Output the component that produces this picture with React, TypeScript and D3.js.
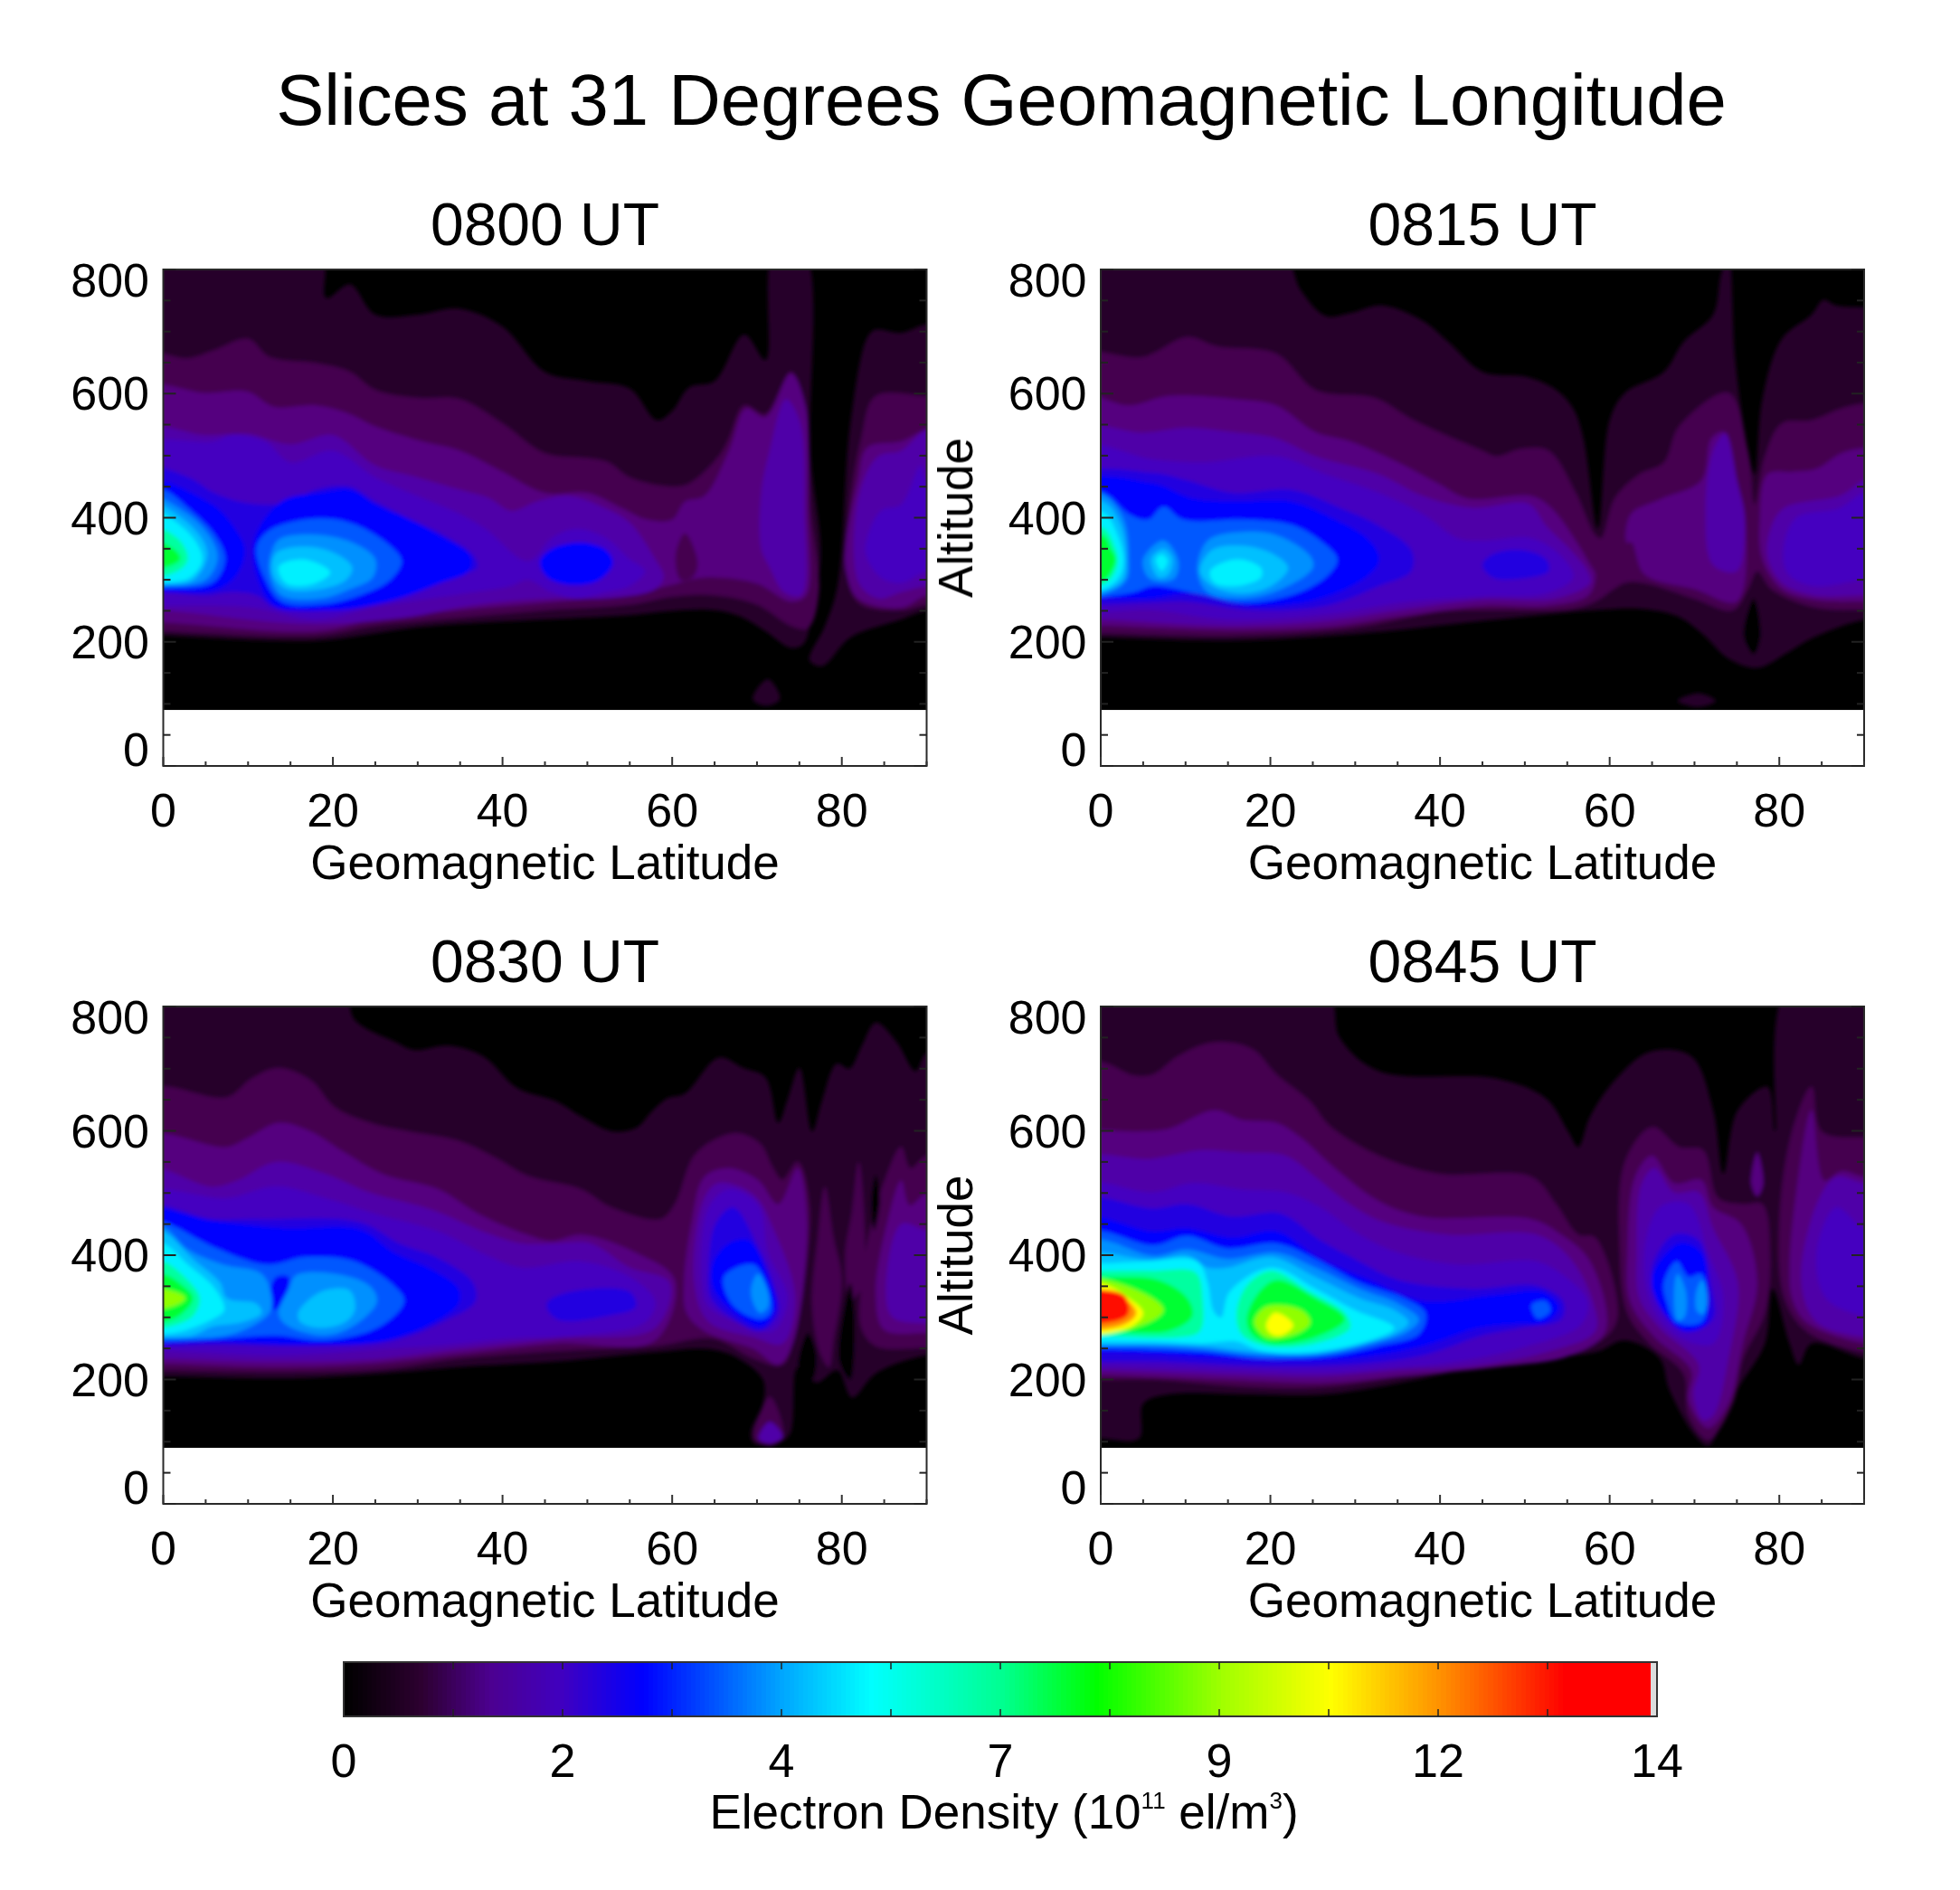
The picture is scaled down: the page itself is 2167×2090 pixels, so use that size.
import React from "react";
import * as d3 from "d3";

// Filled contour bands: [level, flat list of lat, altitude pairs around the band]
type Ring = [number, number[]];

const levelColors = ["#000000","#26002a","#45004f","#55007f","#5000a8","#4400c0","#2400e0","#0000ff","#0058ff","#0090ff","#00c0ff","#00f0ff","#00ffa0","#00ff30","#90ff00","#ffff00","#ff9000","#ff1000"];

const rings0800: Ring[] = [
  [1,[-3,830,18.5,830,19.2,754,22,776,25,727,30,727,34.8,737,40,708,45,635,50,620,55,608,58.2,557,60,572,62,610,65,620,68.5,695,71,654,72,830,75.5,830,76.3,500,77.5,340,76.5,250,75.5,197,74,190,71,217,68,241,65,251,60,250,55,243,45,236,35,229,29,222,18,202,0,210,-3,210]],
  [1,[76.2,170,78,225,79.5,290,81,550,83,690,84,703,87,698,90,712,93,712,93,255,90,251,87,236,81,207,77.7,161]],
  [1,[69.5,108,71.3,140,72.7,108,71,97]],
  [2,[-3,661,3,657,6,670,10,688,12.5,659,18,649,22,635,25,606,30,593,35,591,40,552,45,504,50,496,52.5,489,55,465,60,450,62,455,65.5,499,66.7,528,68.5,581,71,567,74,635,75.5,586,76.3,411,77.3,280,76,222,74,226,70,260,65,275,60,273,55,260,45,251,35,239,25,226,18,210,0,217,-3,217]],
  [2,[80.9,411,82.3,528,84,596,90,596,93,596,93,260,90,260,87,251,82.3,260,80.9,290]],
  [3,[-3,608,5,601,10,603,13,579,18,581,22,567,25,547,30,525,35,508,40,474,45,440,50,440,54,416,57,397,60,397,61.5,426,63.8,435,66.7,508,68.7,576,71,562,74,632,75.7,581,76,411,75.8,275,74,265,70,294,65,304,62,300,60,292,55,277,45,263,35,251,25,236,18,217,0,231,-3,231]],
  [2,[60.4,340,61.5,375,63,330,62.5,305,61,300]],
  [3,[80.5,363,81.9,460,83,513,87,523,90,542,93,542,93,275,90,275,87,255,81.9,270,80.5,314]],
  [4,[-3,542,5,533,10,535,15,518,20,533,25,484,30,465,35,445,38.5,431,41,411,44,426,47.9,435,52,416,55,392,58,333,59,305,58,285,52,270,46,270,40,265,35,256,29,240,17,229,0,251,-3,251]],
  [4,[70.5,440,71.5,508,73.4,591,75,557,75.6,411,75.2,275,73.2,280,71.5,320,70.5,350]],
  [4,[82,435,84.3,499,87,508,90,542,93,542,93,290,90,290,87,280,84.3,270,82,295]],
  [5,[82.9,363,84.6,411,87,421,89.3,484,90,460,93,460,93,314,90,314,87,295,84.6,304,82.9,338]],
  [5,[-3,513,6,523,8,533,12,523,15,489,20,508,25,465,30,435,35,406,38,382,43,330,45.8,367,48.7,382,52.2,367,55,333,56.8,314,55,290,52.2,280,48.7,270,45.8,280,43,300,41,290,35,277,25,256,18,236,10,256,0,258,-3,258]],
  [6,[-3,480,3,465,6,440,9,426,12.5,421,15,426,18,445,22,450,25,426,30,392,33,372,36.5,340,37,320,33,302,30,287,25,265,18,250,13,256,11,275,8,280,5,275,0,280,-3,280]],
  [7,[-3,460,5.8,421,8.7,377,9.6,348,8.7,309,6.4,285,0,280,-3,280]],
  [7,[10.7,363,13.9,426,18.6,440,22,445,25,421,29,397,32.5,372,36.2,338,36,314,32.5,294,27.8,270,22,253,17.4,251,13.3,256,11.3,295]],
  [7,[44.4,329,45.6,348,49,360,52.2,348,53,326,51.3,299,48,292,45.3,304]],
  [8,[11,353,12.8,382,18.6,399,23,387,27.3,348,28.1,329,26.7,299,23.2,275,18.6,260,13.9,265,11.9,304]],
  [9,[13,353,13.9,367,18.6,372,22.6,358,25,333,24.7,304,22,285,18.6,270,13.9,275,12.5,314]],
  [10,[13.3,343,17.4,353,20.9,338,22.3,319,21.5,299,18.6,285,14.5,285,12.9,309]],
  [11,[13.6,321,16.5,333,19.7,312,17.4,292,14.5,294]],
  [8,[-3,445,0,445,2.9,416,6.1,372,7.3,333,5.8,295,0,287,-3,287]],
  [9,[-3,440,2.9,406,5.8,363,6.4,333,4.9,299,0,290,-3,290]],
  [10,[-3,430,2.9,392,5.2,343,3.5,299,0,292,-3,292]],
  [11,[-3,420,2.9,377,4.6,333,3.2,304,0,295,-3,295]],
  [12,[-3,390,1.7,367,2.9,333,1.7,314,-3,305]],
  [13,[-3,370,1.4,348,2,333,0,319,-3,318]],
];

const rings0815: Ring[] = [
  [1,[-3,830,21.2,830,23.6,766,26.5,725,29.5,730,33.1,742,38,717,41,683,45,635,50.2,627,53.7,606,55.7,576,56.9,528,58.6,382,60,557,61.8,601,66.4,635,68.7,683,72.2,727,73.1,790,74,830,74.8,654,76.3,508,77.1,470,78,591,80.3,688,83.8,727,85.2,751,86.7,742,90.2,739,93,739,93,236,90.2,236,84,207,81,183,77.4,158,74,173,71,212,68,241,64,253,58.3,251,46.7,236,29.4,212,14.9,202,0.4,207,-3,207]],
  [1,[68,105,70.5,117,72.5,105,70.5,95]],
  [2,[-3,659,5,659,10.2,691,13.7,676,20.7,664,25.3,606,32.3,593,36.9,557,45,508,46.7,499,49.6,511,52.8,508,56,440,58.3,372,59,367,60.6,431,63.5,470,66.4,489,68.2,547,74,601,76.3,508,77.1,421,78.3,499,80.3,552,83.8,557,87.3,576,90,584,93,584,93,251,90,251,84,256,79.1,285,77.4,314,76.3,285,74.5,251,69.9,270,64,295,61.8,295,58.3,265,55.4,253,46.7,251,40.5,249,29.4,222,14.9,210,0.4,214,-3,214]],
  [3,[-3,596,3.3,581,7.9,596,16,591,20.7,581,25.3,538,29.4,523,35.1,489,39.8,455,43.3,431,50.8,435,53.1,416,56,363,57.7,324,58.3,309,57.5,275,52.5,258,45,258,35.1,241,26.5,224,14.9,219,0.4,226,-3,226]],
  [3,[62,360,62.5,406,66,430,70.8,460,72,528,73.6,538,75,460,76,396,75,265,70,285,64.1,309,62.6,360]],
  [4,[71.3,411,72.2,508,73.6,535,75,460,75.9,396,75,314,72.2,324]],
  [3,[77.7,397,78.6,470,81.5,474,84.4,479,87.3,504,90.2,513,93,513,93,265,90,265,84,268,80.3,285,78,333]],
  [4,[79.1,387,80.6,416,87.3,436,90,460,93,460,93,275,90,275,84,275,80.3,295,78.6,338]],
  [4,[-3,542,5,537,10.2,545,15.5,538,20.7,528,25.3,499,32.8,470,38,435,43.8,416,50.5,422,52.5,387,55.4,348,57.4,314,57.7,295,53.7,270,45,268,35.1,251,26.5,234,14.9,226,0.4,236,-3,236]],
  [5,[-3,513,6.2,494,12,489,20.7,499,26.5,470,32.8,440,38,406,42.1,367,45,363,50.8,367,54.3,338,55.7,304,52.5,278,45,273,36.3,265,26.5,244,14.9,236,6.2,251,0.4,248,-3,248]],
  [5,[80.5,350,82,400,87,415,90,440,93,440,93,300,90,300,84,290,81,310]],
  [6,[-3,465,6.2,472,10.2,460,15.5,440,22.4,445,28.2,416,32.8,387,36.6,348,36.6,314,32.8,290,26.5,258,17.8,251,10.2,265,5.6,263,0.4,260,-3,260]],
  [6,[45,324,46.2,341,49.6,348,52.5,333,52.8,314,49.6,302,46.2,304]],
  [7,[-3,455,6.2,455,10.8,431,16,426,22.4,426,27.6,397,31.7,363,32.8,333,31.7,309,25.9,270,17.8,258,10.8,278,5.6,270,0.4,270,-3,270]],
  [8,[-3,440,0.4,440,3.3,406,5.6,397,7.4,418,9.7,397,16.6,397,22.4,389,25.9,363,27.9,333,26.5,304,22.4,275,16.6,263,11.4,278,6.2,290,3.9,280,0.4,273,-3,273]],
  [9,[11.4,314,12.6,363,16.6,377,20.7,372,24.7,338,25,319,21.3,285,16.6,270,12.6,280]],
  [10,[11.7,314,13.1,348,16.6,355,20.1,343,22.1,319,20.1,290,16.6,278,13.1,290]],
  [11,[12.9,314,16,333,18.9,319,18.9,304,16,290,13.4,295]],
  [9,[5,333,7.4,363,9.1,333,8.8,304,7.4,297,5.6,304]],
  [10,[5.9,333,7.4,350,8.5,333,7.9,307,6.8,304]],
  [11,[6.5,333,7.2,341,7.9,331,7.2,314]],
  [9,[-3,440,0.4,436,2.7,397,3.3,333,3,299,0.4,277,-3,277]],
  [10,[-3,425,0.4,425,2.3,390,3,333,2.6,300,0.4,282,-3,282]],
  [11,[-3,410,0.4,408,1.9,375,2.7,333,2.2,305,0.4,285,-3,285]],
  [12,[-3,385,0.4,383,1.6,355,2,333,1.6,310,0.4,293,-3,293]],
  [13,[-3,370,0.4,370,1.2,350,1.8,333,1.2,312,0.4,300,-3,300]],
  [0,[75.8,210,77,270,77.8,210,77,180]],
];

const rings0830: Ring[] = [
  [1,[-3,830,21,830,22.6,778,27.2,744,29.6,730,33.6,737,37.7,720,41.7,669,46.4,647,49.3,623,53,599,55.9,606,57.4,628,59.4,652,61.5,660,65.5,718,68.4,701,71,686,72.5,613,73.6,650,75,701,76.5,599,77.7,650,79.4,708,80.9,700,82.3,735,84,774,86.4,744,88.7,696,90,725,93,725,93,239,90,239,84,210,81.2,171,79.5,215,77,195,74.8,220,73.9,113,72.5,98,69.6,98,69.3,117,70.7,161,70.7,200,67.8,234,64.3,249,58,244,46.4,229,34.8,220,26,210,14.5,202,0,205,-3,205]],
  [2,[-3,671,0.6,671,7.5,654,10.4,684,13.6,701,17.4,681,20.3,637,24.9,611,29,599,34.8,584,39.4,555,42.9,528,49.3,506,52.8,477,58.6,458,60.3,482,62.6,560,65.5,589,67.8,596,70.4,579,71.9,540,73,521,74.8,550,76.2,477,74.5,283,73,224,69.6,234,64.9,266,58,254,46.4,246,34.8,234,26,217,14.5,212,0,215,-3,215]],
  [2,[76.5,320,77.2,430,78,510,79,430,80,360,79,260,78.5,220,77.5,240]],
  [2,[80.4,400,81.2,470,82,550,82.7,440,82.5,350,81.5,330,81,300]],
  [2,[82.3,356,83.5,453,85.2,526,87,574,88.1,540,90,560,93,560,93,251,90,251,84,254,82.3,283]],
  [2,[69.7,105,70.5,150,71.5,172,72.5,150,73,105,71.5,93]],
  [4,[70.2,105,71.5,132,73,108,71.5,97]],
  [0,[79.7,230,80.5,330,81,355,81.5,300,81,200]],
  [0,[74.9,215,76,275,77,240,76.5,200]],
  [0,[83.5,490,84,530,84.5,490,83.8,440]],
  [3,[-3,589,7.5,574,10,589,13.6,613,17.4,599,21.4,565,26,530,32.5,506,37.1,467,42.9,433,45.8,423,49.3,433,55.7,404,60.3,360,58,263,46.4,258,34.8,241,26,227,14.5,220,0,225,-3,225]],
  [3,[61.4,356,62.3,453,63.8,526,66.7,540,70.1,521,72.5,482,74.8,540,75.9,453,74.2,258,72.5,224,69.6,249,63.8,278,61.7,307]],
  [3,[84,340,85.5,460,87,520,88,480,90,500,93,500,93,275,90,275,85,280]],
  [4,[62.6,356,63.8,492,65.5,516,69.6,497,71.9,443,74.5,331,73,258,69.6,268,64.3,293]],
  [4,[-3,540,5.8,510,8.7,520,13.3,550,19.1,531,24.3,501,31.9,472,37.7,438,42.3,419,46.4,419,50.4,419,55,380,59.7,356,58,283,46.4,266,34.8,249,26,234,14.5,229,0,234,-3,234]],
  [4,[85.2,340,87,450,90,440,93,440,93,290,90,290,86,300]],
  [5,[63.5,356,64.3,477,66.7,506,70.1,482,71.3,404,73.6,331,71.9,278,68.4,288,64.3,317]],
  [5,[-3,497,7.5,492,13.3,511,19.1,492,24.9,467,32.5,438,38.3,399,42.3,380,49.3,390,55,365,58,326,56.8,292,49.3,271,40.6,266,33.6,256,26,249,14.5,239,0,246,-3,246]],
  [6,[64.3,380,65.2,453,67.2,477,70.1,414,71.9,356,72.5,307,70.4,278,67.2,297,64.6,331]],
  [6,[-3,477,5.8,458,11.6,458,23.2,453,27.8,419,32.5,395,36.5,356,36.8,326,33.6,297,27.2,263,17.4,254,5.8,256,0,254,-3,254]],
  [6,[45.2,322,48,341,55,341,55.7,317,52.2,302,46.4,297]],
  [7,[64.9,390,66.7,419,69,424,71.3,365,72.2,317,70.7,285,67.8,302,64.9,346]],
  [7,[-3,472,5.8,455,14.5,443,23.2,441,27.2,404,31.9,375,34.8,346,34.8,322,31.3,288,25.5,261,17.4,256,5.8,261,0,258,-3,258]],
  [8,[66.1,365,69.6,385,71.6,331,71.6,307,70.4,297,67.2,319]],
  [8,[-3,453,0,453,5.8,414,12.2,385,16.8,397,22.6,390,27.2,351,28.4,326,25.5,285,19.1,263,13.3,271,7,266,0,261,-3,261]],
  [7,[13.3,365,14.8,365,14.2,326,13,312,12.5,336]],
  [9,[69.3,346,70.1,370,71.3,341,71.3,317,70.4,307,69.6,322]],
  [9,[14.8,346,15.7,368,20.3,370,24.3,351,25.2,326,22.6,288,19.1,271,14.5,288,13.6,307]],
  [10,[15.9,307,18.6,341,22,343,22.6,312,21.4,292,18.6,283,16.2,292]],
  [9,[-3,445,0,445,2.9,409,7,385,11.6,370,12.8,331,12.5,307,8.1,273,0,266,-3,266]],
  [10,[-3,438,0,438,3.5,394,6.7,356,7.5,331,11,322,11.6,307,9.3,292,5.8,285,3.5,271,0,268,-3,268]],
  [11,[-3,419,0,419,2.9,385,6.1,346,7.2,312,5.8,297,2.3,278,0,273,-3,273]],
  [12,[-3,390,0,390,2.9,360,4.3,331,3.5,302,0,283,-3,283]],
  [13,[-3,370,0,370,2.3,351,3.5,331,2.3,307,0,292,-3,292]],
  [14,[-3,346,1.4,341,2.6,331,1.4,319,-3,314]],
];

const rings0845: Ring[] = [
  [1,[-3,830,26.5,830,28.2,749,32.8,696,46.7,684,52.5,652,55.1,599,56.3,574,57.7,623,60.6,681,64.7,727,69.6,720,72.2,633,73.4,531,75.1,633,78.6,671,79.5,599,81,830,93,830,93,234,90,234,83.8,258,82.3,224,81.2,258,79.2,346,78.3,258,75.1,185,72.8,117,71.6,93,69.9,113,67,185,65.9,234,61.8,263,58.3,244,46.7,229,38,202,26.5,176,17.8,176,7.9,176,5,161,4.5,105,0,105,-3,105]],
  [2,[-3,710,0.4,710,3.9,689,6.2,691,9.1,720,13.1,742,17.8,732,20.7,691,24.7,647,27,608,32.8,560,39.8,531,50.8,526,53.7,482,56.3,433,58.3,428,60.9,300,58.9,263,46.7,234,38,212,26.5,188,17.8,188,6.2,200,0.4,200,-3,200]],
  [2,[61.2,404,61.8,550,65,606,68.2,574,71,569,72.8,492,75.7,482,78,482,78.9,404,78.3,307,75.7,234,74.5,161,71.6,103,69.3,142,68.7,210,64.7,258,62.1,307]],
  [2,[80,453,81.5,599,83.8,671,85,599,90,589,93,589,93,244,90,244,83.2,278,80.6,331]],
  [3,[76.7,515,77.4,565,78.1,515,77.4,495]],
  [3,[-3,601,0.4,601,3.9,599,7.9,603,13.4,633,16.6,618,20.7,613,23.6,589,27.6,540,32.8,487,38,462,50.8,458,54.3,433,57.7,390,59.5,278,55.4,239,46.7,220,35.1,205,26.5,195,17.8,198,0.4,207,-3,207]],
  [3,[62.1,404,63,526,65,560,67.6,516,70.8,521,72.2,477,75.5,450,77.4,356,75.7,258,74,161,71.6,122,69.3,166,69.6,215,65.3,268,62.4,326]],
  [3,[81.2,380,82,501,83.8,633,85.3,520,87.3,535,90,526,93,526,93,258,90,258,83.2,292,81.5,331]],
  [4,[-3,550,6,555,12,569,16.6,565,21.8,560,25.3,526,29.4,482,33.4,453,40.9,433,51.4,433,55.4,394,58,326,58.3,278,52.5,244,43.8,222,35.1,215,26.5,205,17.8,207,0.4,215,-3,215]],
  [4,[63.2,404,63.8,516,65.3,540,67.6,501,70.5,501,72.2,443,75.1,356,74,234,72.2,142,71,135,69.9,176,70.5,224,65.9,283,63.5,331]],
  [4,[82.6,356,84.4,482,86.7,526,90,516,93,516,93,268,90,268,84.4,292]],
  [5,[-3,511,6.2,501,10.8,516,16.6,506,21.8,501,25.9,477,30.5,433,35.1,404,42.1,385,51.4,390,54.8,365,57.4,326,56.6,288,49.6,251,41,227,35.1,220,26.5,212,17.8,215,0.4,222,-3,222]],
  [5,[64.1,404,65.9,477,69.3,482,71.6,404,73.4,331,72.2,258,68.2,268,65,317]],
  [5,[84.4,404,86.7,477,90,443,93,443,93,302,90,302,85.5,331]],
  [6,[-3,487,6.2,475,10.2,482,15.5,462,21.2,467,25.9,424,30.5,390,35.1,360,43.8,346,51.4,351,54.5,326,54.3,297,49.6,283,45,271,38,239,29.4,224,18.9,222,6.2,229,0.4,229,-3,229]],
  [6,[65,380,67.6,433,70.5,424,71.9,356,72.2,297,69.3,278,65.9,317]],
  [7,[-3,458,6.2,438,10.2,443,15.5,428,20.7,438,25.9,394,31.7,360,38,326,46.7,336,52,341,54,317,52.5,292,49,290,44.4,283,38,254,29.4,234,18.9,232,6.2,241,0.4,244,-3,244]],
  [7,[65,365,68.2,419,70.8,404,71.6,331,71.3,288,68.7,278,65.9,317]],
  [8,[-3,438,0.4,438,6.2,416,10.2,431,14.9,411,20.7,419,25.3,394,30.5,356,35.7,331,38.3,307,37.5,273,32.8,254,26.5,237,18.9,234,12,244,0.4,249,-3,249]],
  [8,[50.8,320,52.5,326,53,310,51.5,298]],
  [8,[66.4,356,67.9,390,69.3,365,70.8,370,71.5,326,70.8,292,67.9,292,66.7,326]],
  [9,[67.6,340,68,370,69,340,68.8,300,68,295]],
  [9,[70.2,340,70.9,360,71.5,330,71,305,70.3,310]],
  [9,[-3,424,0.4,424,6.2,399,10.2,409,14.9,394,20.7,404,25.3,380,30.5,346,35.1,322,37.5,297,36.3,278,32.8,261,26.5,241,18.9,239,12,249,6.2,254,0.4,254,-3,254]],
  [10,[-3,404,0.4,404,6,392,10.2,399,12.6,380,14.9,380,20.1,397,25.3,365,30.5,331,34.6,312,36.3,292,34.6,273,31.1,258,24.7,241,18.9,244,12,254,6.2,256,0.4,256,-3,256]],
  [11,[-3,387,0.4,387,5,390,11.4,390,12.6,356,13.3,310,14.2,300,15.2,341,20.1,380,25.3,346,29.9,312,34.6,283,31.7,263,24.7,244,18.9,246,16,261,12,258,6.2,261,0.4,261,-3,261]],
  [12,[-3,375,0.4,375,6.2,375,11.2,372,12,331,11.7,278,9.1,268,0.4,270,-3,270]],
  [12,[16,307,17.2,351,20.1,375,24.7,341,28.8,307,29.4,283,25.3,258,19.5,254,16.6,273]],
  [13,[-3,365,0.4,365,6.8,360,10.2,331,10.8,302,8,278,0.4,278,-3,278]],
  [13,[17.2,297,18.4,336,20.7,360,25.3,331,28.8,297,25.3,268,20.1,258,17.8,273]],
  [14,[-3,360,3.9,346,7.4,312,5,288,-3,280]],
  [14,[18.1,292,19.5,317,23.6,312,24.7,292,23,273,19.5,268]],
  [15,[-3,355,0.4,353,3.3,331,5,307,3.3,283,-3,278]],
  [15,[19.5,287,20.4,307,21.3,305,22.7,287,21.3,271,20.1,273]],
  [16,[-3,346,2.7,331,4.2,307,2.7,288,-3,285]],
  [17,[-3,337,2.7,336,3.3,307,2.1,295,-3,295]],
];

const panelTitles = ["0800 UT", "0815 UT", "0830 UT", "0845 UT"];
const panelRings = [rings0800, rings0815, rings0830, rings0845];
const latLabels = [0, 20, 40, 60, 80];
const latMinor = d3.range(0, 91, 5);
const altLabels = [800, 600, 400, 200, 0];
const altMinor = d3.range(0, 801, 50);

const barStopValues = [0, 0.8, 1.54, 2.3, 3.17, 3.9, 4.67, 5.6, 7, 8, 9.33, 10.5, 11.67, 13, 14];
const barStopColors = ["#000000","#2d0030","#4c0090","#4000c0","#0000ff","#0050ff","#00a8ff","#00ffff","#00ff90","#00ff00","#a0ff00","#ffff00","#ff9000","#ff0000","#ff0000"];
const barLabels = ["0", "2", "4", "7", "9", "12", "14"];
const barLabelValues = barLabels.map((_, i) => (14 * i) / 6);

const FONT = "'Liberation Sans', Arial, sans-serif";
const INK = "#000";
const colX = [[180.5, 1024.5], [1217, 2061]];
const rowY = [[298, 847], [1113, 1663]];

const ringPath = d3.line<[number, number]>().curve(d3.curveCatmullRomClosed.alpha(0.5));

function Panel({ index }: { index: number }) {
  const col = index % 2;
  const row = index >> 1;
  const [x0, x1] = colX[col];
  const [y0, y1] = rowY[row];
  const x = d3.scaleLinear().domain([0, 90]).range([x0, x1]);
  const y = d3.scaleLinear().domain([0, 800]).range([y1, y0]);
  const clipId = `clip${index}`;
  return (
    <g>
      <defs>
        <clipPath id={clipId}>
          <rect x={x0} y={y0} width={x1 - x0} height={y(90) - y0} />
        </clipPath>
      </defs>
      <g clipPath={`url(#${clipId})`}>
        <rect x={x0} y={y0} width={x1 - x0} height={y(90) - y0} fill="#000" />
        <g filter="url(#soft)">
          {panelRings[index].map(([level, flat], i) => {
            const pts = d3.range(0, flat.length, 2).map((k) => [x(flat[k]), y(flat[k + 1])] as [number, number]);
            return <path key={i} d={ringPath(pts) || ""} fill={levelColors[level]} />;
          })}
        </g>
      </g>
      <rect x={x0} y={y0} width={x1 - x0} height={y1 - y0} fill="none" stroke="#2a2a2a" strokeWidth={2} />
      {altMinor.map((a) => {
        const len = a % 200 === 0 ? 14 : 8;
        return (
          <g key={a} stroke="#222" strokeWidth={2}>
            <line x1={x0} x2={x0 + len} y1={y(a)} y2={y(a)} />
            <line x1={x1} x2={x1 - len} y1={y(a)} y2={y(a)} />
          </g>
        );
      })}
      {latMinor.map((l) => (
        <line key={l} x1={x(l)} x2={x(l)} y1={y1} y2={y1 - (l % 20 === 0 ? 10 : 5)} stroke="#333" strokeWidth={2} />
      ))}
      <g filter="url(#textSoft)" fontFamily={FONT} fill={INK}>
        <text x={(x0 + x1) / 2} y={y0 - 27} textAnchor="middle" fontSize={66}>{panelTitles[index]}</text>
        {altLabels.map((a) => (
          <text key={a} x={x0 - 15.5} y={Math.min(Math.max(y(a) + 18, y0 + 30), y1)} textAnchor="end" fontSize={52}>{a}</text>
        ))}
        {latLabels.map((l) => (
          <text key={l} x={x(l)} y={y1 + 67} textAnchor="middle" fontSize={52}>{l}</text>
        ))}
        <text x={(x0 + x1) / 2} y={y1 + 125} textAnchor="middle" fontSize={53}>Geomagnetic Latitude</text>
        {col === 1 && (
          <text transform={`translate(${x0 - 142},${(y0 + y1) / 2}) rotate(-90)`} textAnchor="middle" fontSize={53}>Altitude</text>
        )}
      </g>
    </g>
  );
}

function ColorBar() {
  const barX = d3.scaleLinear().domain([0, 14]).range([380, 1838 - 6]);
  const color = d3.scaleLinear<string>().domain(barStopValues).range(barStopColors).interpolate(d3.interpolateRgb);
  const top = 1838;
  const bottom = 1898;
  const cells = d3.range(0, 14, 0.05);
  return (
    <g>
      <g shapeRendering="crispEdges">
        {cells.map((v) => (
          <rect key={v} x={barX(v)} y={top} width={barX(0.05) - barX(0) + 1} height={bottom - top} fill={color(v)} />
        ))}
      </g>
      <rect x={barX(14) - 7} y={top} width={7} height={bottom - top} fill="#dcdcdc" />
      <rect x={barX(0)} y={top} width={barX(14) - barX(0)} height={bottom - top} fill="none" stroke="#333" strokeWidth={2} />
      {d3.range(1, 12).map((i) => {
        const v = (14 * i) / 12;
        return (
          <g key={i} stroke="#222" strokeWidth={1.5}>
            <line x1={barX(v)} x2={barX(v)} y1={top} y2={top + 8} />
            <line x1={barX(v)} x2={barX(v)} y1={bottom} y2={bottom - 8} />
          </g>
        );
      })}
      <g filter="url(#textSoft)" fontFamily={FONT} fill={INK}>
        {barLabels.map((t, i) => (
          <text key={t} x={barX(barLabelValues[i])} y={1965} textAnchor="middle" fontSize={52}>{t}</text>
        ))}
        <text x={1110} y={2022} textAnchor="middle" fontSize={53}>
          Electron Density (10<tspan fontSize={26} dy={-22}>11</tspan><tspan dy={22}> el/m</tspan><tspan fontSize={26} dy={-22}>3</tspan><tspan dy={22}>)</tspan>
        </text>
      </g>
    </g>
  );
}

export default function App() {
  return (
    <svg width={2167} height={2090} viewBox="0 0 2167 2090" style={{ position: "absolute", left: 0, top: 0, display: "block", background: "#fff" }}>
      <defs>
        <filter id="soft" x="-5%" y="-5%" width="110%" height="110%">
          <feGaussianBlur stdDeviation={2} />
        </filter>
        <filter id="textSoft" x="-5%" y="-5%" width="110%" height="110%">
          <feGaussianBlur stdDeviation={0.7} />
        </filter>
      </defs>
      <text x={1107} y={138} textAnchor="middle" fontSize={79.7} fontFamily={FONT} fill={INK} filter="url(#textSoft)">
        Slices at 31 Degrees Geomagnetic Longitude
      </text>
      {panelTitles.map((_, i) => <Panel key={i} index={i} />)}
      <ColorBar />
    </svg>
  );
}
